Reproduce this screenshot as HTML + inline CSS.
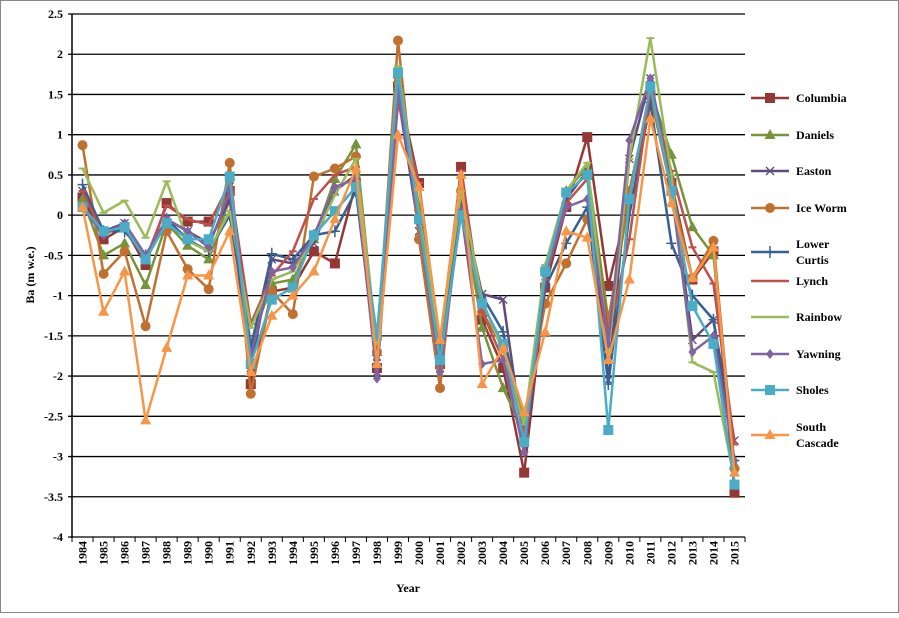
<!DOCTYPE html>
<html><head><style>
body{margin:0;background:#fff}
svg text{font-family:"Liberation Serif",serif;font-weight:bold;font-size:12px;fill:#000}
</style></head><body>
<svg id="s" width="899" height="613" xmlns="http://www.w3.org/2000/svg">
<rect x="0.5" y="0.5" width="898" height="612" fill="#fff" stroke="#888"/>
</svg>
<script>
const s=document.getElementById('s');const NS='http://www.w3.org/2000/svg';
function el(t,a,txt){const e=document.createElementNS(NS,t);for(const k in a)e.setAttribute(k,a[k]);if(txt!=null)e.textContent=txt;s.appendChild(e);return e;}
const L=72,R=745,T=14,B=537;const X=i=>L+(i+0.5)*(R-L)/32;const Y=v=>T+(2.5-v)*(B-T)/6.5;
for(let k=0;k<=13;k++){const v=2.5-k*0.5,y=Y(v);el('line',{x1:L-4,x2:R,y1:y,y2:y,stroke:'#000','stroke-width':1.3});
el('text',{x:L-9,y:y+4,'text-anchor':'end'},(Math.round(v*10)/10).toString());}
el('line',{x1:L,x2:L,y1:T,y2:B+1,stroke:'#000','stroke-width':1.5});
for(let i=0;i<=32;i++){const x=L+i*(R-L)/32;el('line',{x1:x,x2:x,y1:B,y2:B+5,stroke:'#000'});}
for(let i=0;i<32;i++){const x=X(i)+4;el('text',{x:x,y:B+4,transform:`rotate(-90 ${x} ${B+4})`,'text-anchor':'end'},1984+i);}
el('text',{x:408,y:592,'text-anchor':'middle','font-size':'13'},'Year');
el('text',{x:34,y:275,transform:'rotate(-90 34 275)','text-anchor':'middle'},'Ba (m w.e.)');
const S=[
['Columbia','#953735','sq',[0.22,-0.3,-0.15,-0.62,0.15,-0.08,-0.08,0.3,-2.1,-0.95,-0.9,-0.45,-0.6,0.4,-1.9,1.6,0.4,-1.85,0.6,-1.3,-1.9,-3.2,-0.9,0.1,0.97,-0.88,0.2,1.5,0.4,-0.8,-0.45,-3.45]],
['Daniels','#77933C','tri',[0.2,-0.5,-0.35,-0.87,-0.1,-0.38,-0.55,0.2,-1.6,-0.85,-0.8,-0.3,0.45,0.88,-1.7,1.75,0.1,-1.7,0.2,-1.4,-2.15,-2.7,-0.65,0.3,0.6,-1.3,0.2,1.55,0.75,-0.15,-0.5,-3.1]],
['Easton','#604A7B','x',[0.3,-0.2,-0.1,-0.5,-0.05,-0.2,-0.35,0.2,-1.9,-0.55,-0.6,-0.35,0.3,0.5,-1.95,1.5,-0.2,-1.9,0.2,-0.98,-1.05,-2.9,-0.7,0.2,0.55,-2.05,0.7,1.7,0.4,-1.55,-1.3,-2.8]],
['Ice Worm','#C0702F','ci',[0.87,-0.73,-0.45,-1.38,-0.2,-0.67,-0.92,0.65,-2.22,-0.95,-1.23,0.48,0.58,0.73,-1.7,2.17,-0.3,-2.15,0.3,-1.2,-1.65,-2.55,-1.1,-0.6,-0.05,-1.35,0.3,1.5,0.3,-0.78,-0.32,-3.15]],
['Lower|Curtis','#376092','plus',[0.38,-0.2,-0.2,-0.5,-0.05,-0.3,-0.45,0.0,-1.65,-0.48,-0.55,-0.25,-0.2,0.3,-1.85,1.6,-0.05,-1.8,0.05,-1.0,-1.45,-2.7,-0.9,-0.35,0.1,-2.1,0.0,1.4,-0.35,-1.0,-1.3,-3.05]],
['Lynch','#C0504D','dash',[0.3,-0.25,-0.1,-0.55,0.12,-0.05,-0.12,0.4,-1.35,-0.75,-0.45,0.2,0.5,0.6,-1.8,1.4,0.4,-1.6,0.55,-1.2,-1.8,-2.7,-0.8,0.15,0.45,-1.5,-0.3,1.55,0.55,-0.4,-0.85,-2.85]],
['Rainbow','#9BBB59','dash',[0.58,0.03,0.18,-0.28,0.42,-0.32,-0.45,0.05,-1.4,-0.8,-0.7,-0.3,0.25,0.7,-1.6,1.85,0.0,-1.55,0.3,-1.05,-1.7,-2.6,-0.62,0.3,0.65,-1.7,0.7,2.2,0.5,-1.83,-1.95,-3.3]],
['Yawning','#8064A2','dia',[0.1,-0.25,-0.1,-0.5,-0.05,-0.2,-0.4,0.3,-1.75,-0.7,-0.65,-0.25,0.35,0.45,-2.03,1.55,-0.1,-1.95,0.05,-1.85,-1.8,-2.95,-0.75,0.1,0.2,-1.6,0.93,1.7,0.3,-1.7,-1.5,-3.05]],
['Sholes','#4BACC6','sq',[0.1,-0.2,-0.15,-0.55,-0.1,-0.3,-0.3,0.48,-1.85,-1.05,-0.9,-0.25,0.05,0.35,-1.5,1.77,-0.05,-1.8,0.0,-1.1,-1.6,-2.82,-0.7,0.28,0.5,-2.67,0.2,1.6,0.3,-1.13,-1.6,-3.35]],
['South|Cascade','#F79646','tri',[0.1,-1.2,-0.7,-2.55,-1.65,-0.75,-0.75,-0.2,-1.95,-1.25,-1.0,-0.7,-0.05,0.58,-1.85,1.0,0.35,-1.55,0.5,-2.1,-1.65,-2.45,-1.45,-0.2,-0.28,-1.8,-0.8,1.2,0.15,-0.78,-0.4,-3.2]]];
function mk(t,x,y,c){
if(t=='sq')el('rect',{x:x-5,y:y-5,width:10,height:10,fill:c});
else if(t=='tri')el('polygon',{points:`${x},${y-6} ${x+5.5},${y+4} ${x-5.5},${y+4}`,fill:c});
else if(t=='ci')el('circle',{cx:x,cy:y,r:5,fill:c});
else if(t=='dia')el('polygon',{points:`${x},${y-5} ${x+4},${y} ${x},${y+5} ${x-4},${y}`,fill:c});
else if(t=='x'){el('path',{d:`M${x-4} ${y-4}L${x+4} ${y+4}M${x-4} ${y+4}L${x+4} ${y-4}`,stroke:c,'stroke-width':1.3});}
else if(t=='plus'){el('path',{d:`M${x-5} ${y}L${x+5} ${y}M${x} ${y-6}L${x} ${y+6}`,stroke:c,'stroke-width':1.5});}
else if(t=='dash'){el('path',{d:`M${x-4} ${y}L${x+4} ${y}`,stroke:c,'stroke-width':2});}
}
S.forEach(([n,c,t,d])=>{el('polyline',{points:d.map((v,i)=>X(i)+','+Y(v)).join(' '),fill:'none',stroke:c,'stroke-width':2.5,'stroke-linejoin':'round'});
d.forEach((v,i)=>mk(t,X(i),Y(v),c));});
const LY=[98,135,171,208,252,281,317,354,390,435];
S.forEach(([n,c,t],k)=>{const y=LY[k];el('line',{x1:751,x2:789,y1:y,y2:y,stroke:c,'stroke-width':2.5});mk(t,770,y,c);
const p=n.split('|');if(p.length==1)el('text',{x:796,y:y+4},n);else{el('text',{x:796,y:y-4},p[0]);el('text',{x:796,y:y+12},p[1]);}});
</script>
</body></html>
